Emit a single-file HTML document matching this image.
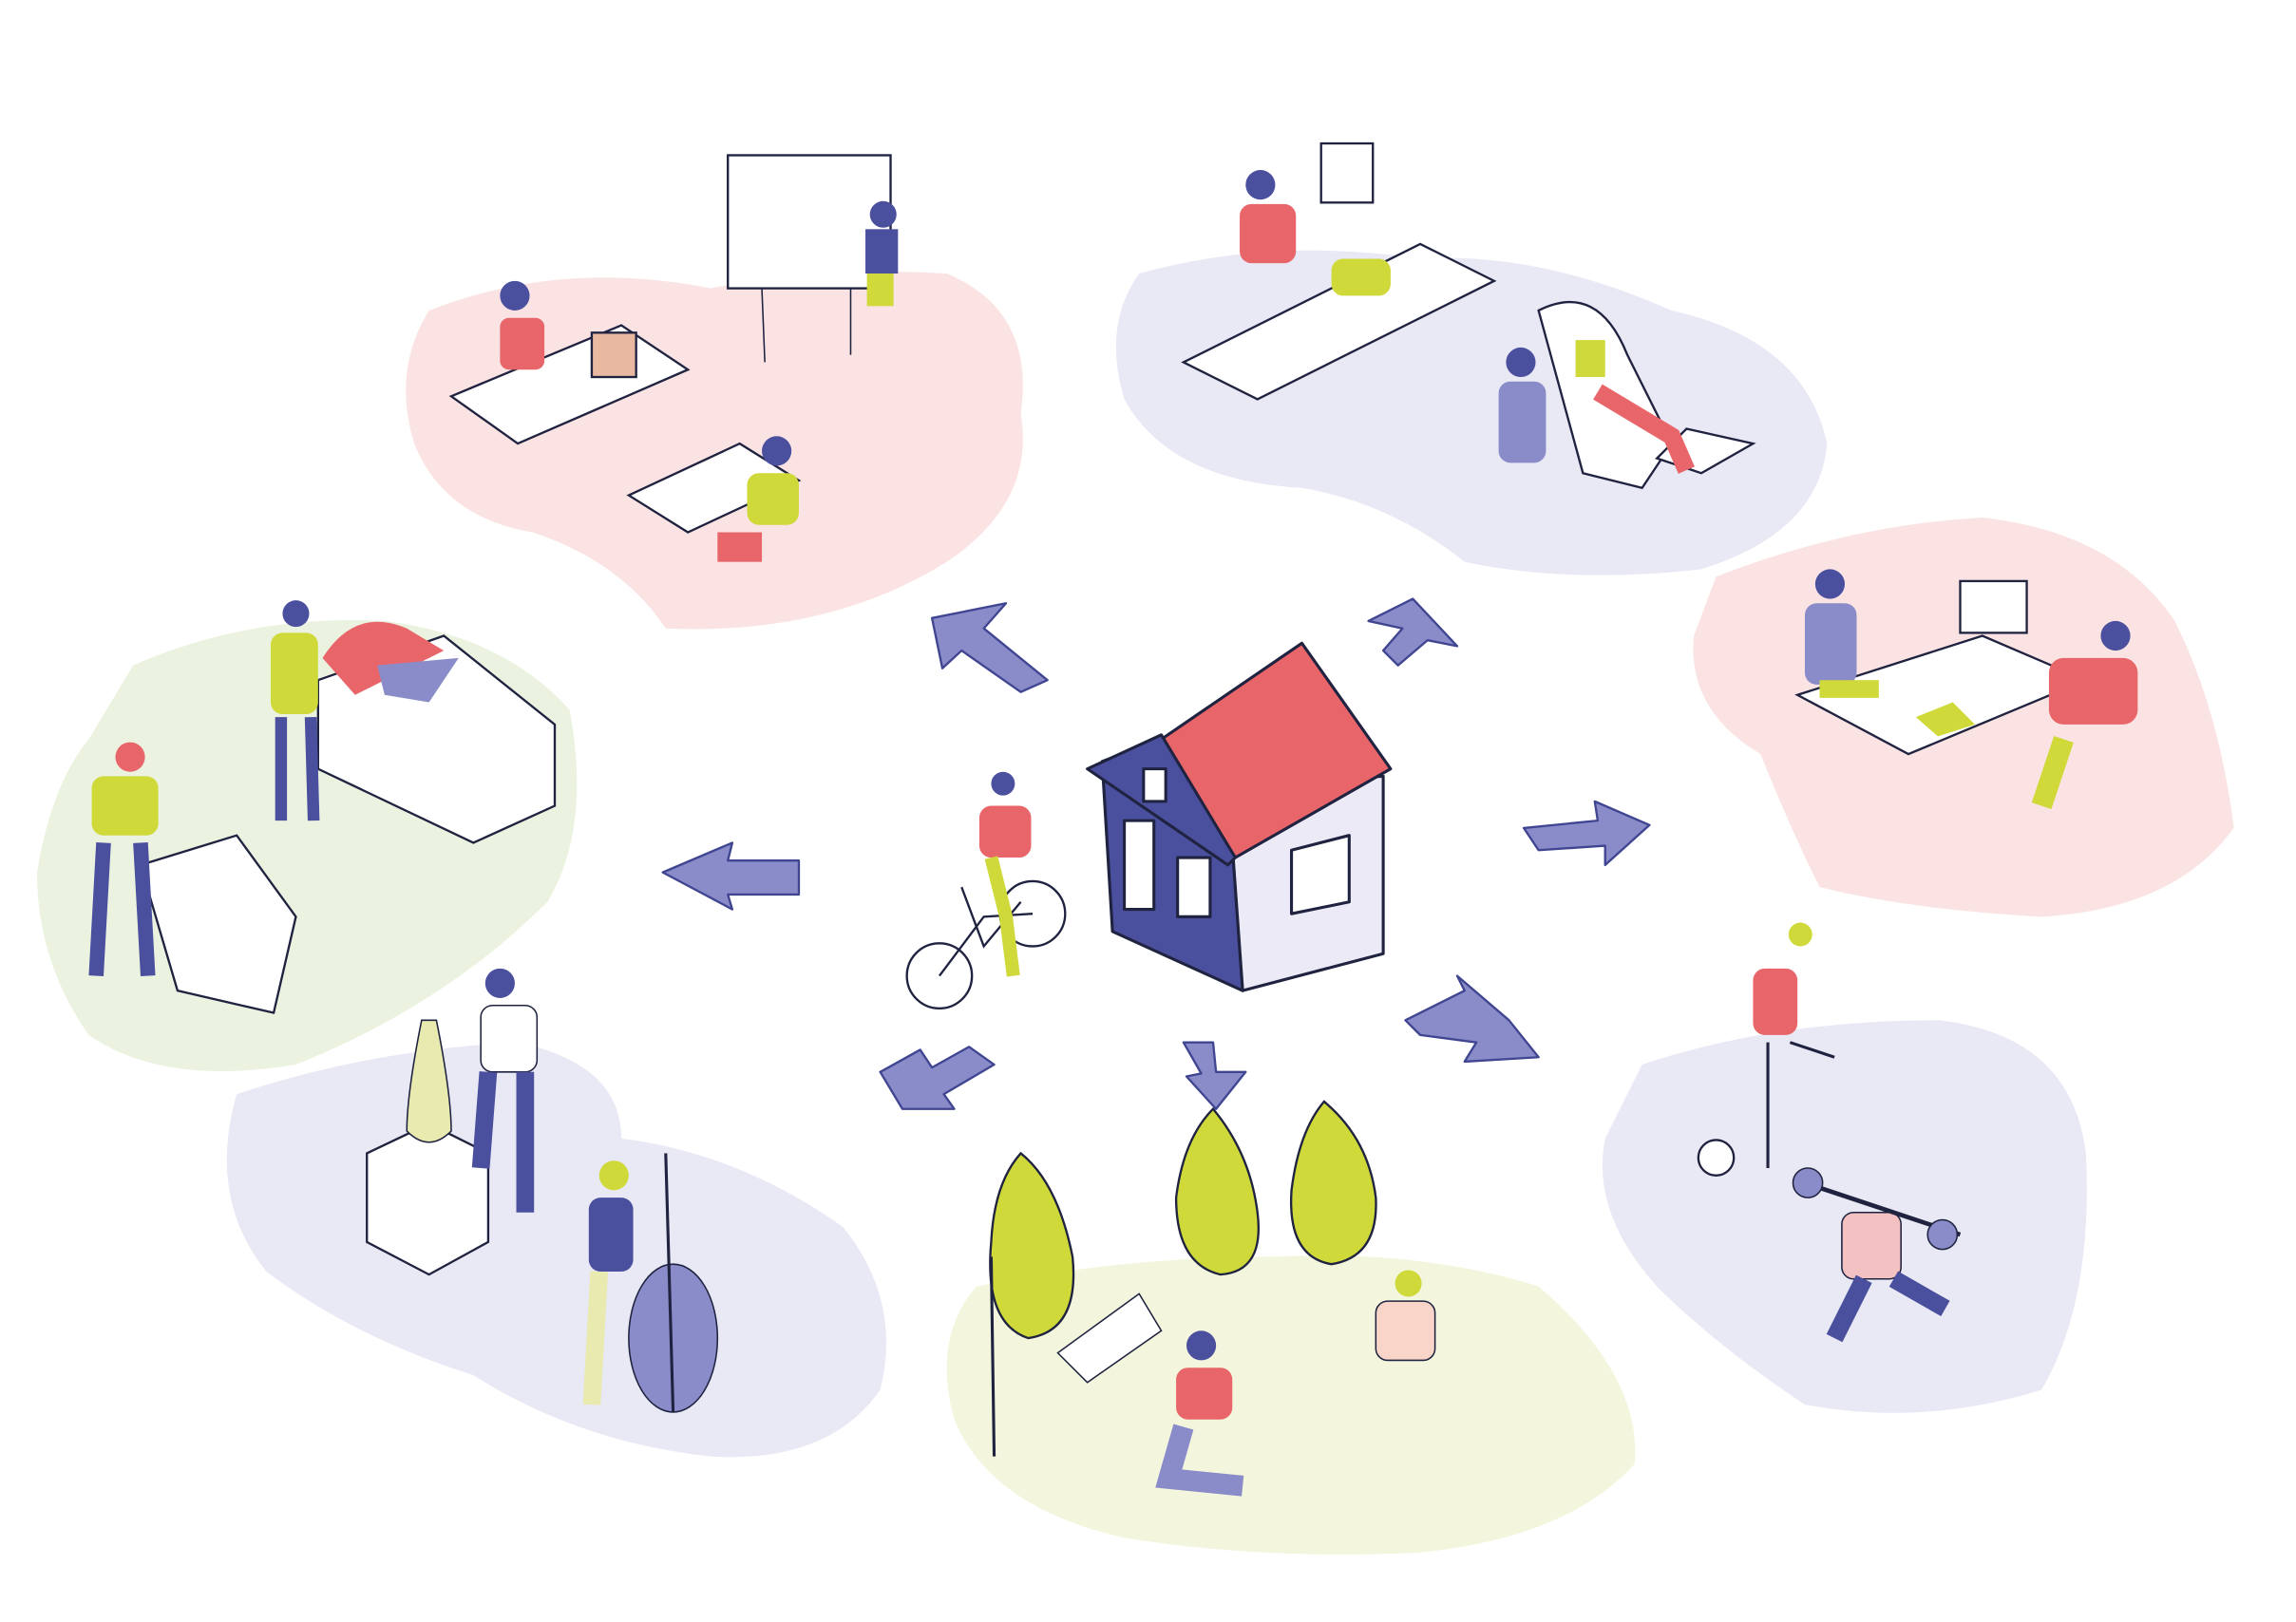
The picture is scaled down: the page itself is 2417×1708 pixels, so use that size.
<!DOCTYPE html>
<html><head><meta charset="utf-8"><style>
html,body{margin:0;padding:0;background:#fff;width:2417px;height:1708px;overflow:hidden}
svg{display:block}
</style></head><body>
<svg width="2417" height="1708" viewBox="0 0 1552 1097" preserveAspectRatio="none" xmlns="http://www.w3.org/2000/svg">
<g opacity="1">
<!-- blobs -->
<path d="M290 210 Q380 175 480 195 Q560 180 640 185 Q700 210 690 280 Q700 340 640 380 Q560 430 450 425 Q420 380 360 360 Q300 350 280 300 Q265 250 290 210Z" fill="#fbe3e3"/>
<path d="M770 185 Q860 160 960 175 Q1040 170 1130 210 Q1220 230 1235 300 Q1230 360 1150 385 Q1060 395 990 380 Q940 340 880 330 Q790 325 760 270 Q745 220 770 185Z" fill="#e9e8f5"/>
<path d="M1160 390 Q1250 355 1340 350 Q1430 360 1470 420 Q1500 480 1510 560 Q1470 615 1380 620 Q1290 615 1230 600 Q1210 560 1190 510 Q1140 480 1145 430Z" fill="#fbe3e3"/>
<path d="M1110 720 Q1200 690 1310 690 Q1400 700 1410 780 Q1415 880 1380 940 Q1300 965 1220 950 Q1160 910 1120 870 Q1075 820 1085 770Z" fill="#e9e8f5"/>
<path d="M660 870 Q760 850 860 850 Q960 845 1040 870 Q1110 930 1105 990 Q1060 1040 960 1050 Q850 1055 760 1040 Q670 1020 645 960 Q630 905 660 870Z" fill="#f3f6dd"/>
<path d="M160 740 Q250 710 350 705 Q420 720 420 770 Q500 780 570 830 Q610 880 595 940 Q560 990 480 985 Q390 975 320 930 Q240 905 180 860 Q140 810 160 740Z" fill="#e9e8f5"/>
<path d="M90 450 Q170 415 260 420 Q340 430 385 480 Q400 560 370 610 Q300 680 200 720 Q110 735 60 700 Q25 650 25 590 Q35 530 60 500Z" fill="#ebf3e0"/>
</g>
<!-- arrows -->
<g fill="#8a8cc9" stroke="#3f4590" stroke-width="1.5" stroke-linejoin="round">
<polygon points="630,418 680,408 665,425 708,460 690,468 650,440 637,452"/>
<polygon points="925,420 955,405 985,437 965,433 945,450 935,440 948,425"/>
<polygon points="1030,560 1080,555 1078,542 1115,558 1085,585 1085,572 1040,575"/>
<polygon points="950,690 990,670 985,660 1020,690 1040,715 990,718 998,705 960,700"/>
<polygon points="800,705 820,705 822,725 842,725 822,750 802,728 812,726"/>
<polygon points="595,725 610,750 645,750 638,740 672,720 655,708 630,722 622,710"/>
<polygon points="448,590 495,570 492,582 540,582 540,605 492,605 495,615"/>
</g>
<!-- house -->
<g stroke="#1f2340" stroke-width="2" stroke-linejoin="round">
<polygon points="745,515 785,500 830,530 840,670 752,630" fill="#4a4f9e"/>
<polygon points="830,530 935,525 935,645 840,670" fill="#eceaf6"/>
<polygon points="785,500 880,435 940,520 835,580" fill="#e8656a"/>
<polygon points="735,520 785,497 835,580 830,585" fill="#4a4f9e"/>
<rect x="760" y="555" width="20" height="60" fill="#fff"/>
<rect x="796" y="580" width="22" height="40" fill="#fff"/>
<rect x="773" y="520" width="15" height="22" fill="#fff"/>
<polygon points="873,575 912,565 912,610 873,618" fill="#fff"/>
</g>
<!-- cyclist -->
<g stroke="#1f2340" stroke-width="1.5" fill="none">
<circle cx="635" cy="660" r="22"/><circle cx="698" cy="618" r="22"/>
<path d="M635 660 L665 620 L698 618 M650 600 L665 640 L690 610"/>
</g>
<circle cx="678" cy="530" r="8" fill="#4a4f9e"/>
<rect x="662" y="545" width="35" height="35" rx="8" fill="#e8656a"/>
<path d="M670 580 L680 620 L685 660" stroke="#cfd93a" stroke-width="9" fill="none"/>
<!-- school -->
<g stroke="#1f2340" stroke-width="1.5" fill="#fff">
<rect x="492" y="105" width="110" height="90"/>
<polygon points="305,268 420,220 465,250 350,300"/>
<polygon points="425,335 500,300 540,325 465,360" />
<rect x="400" y="225" width="30" height="30" fill="#e8b8a0"/>
</g>
<line x1="515" y1="195" x2="517" y2="245" stroke="#1f2340"/><line x1="575" y1="195" x2="575" y2="240" stroke="#1f2340"/>
<circle cx="348" cy="200" r="10" fill="#4a4f9e"/><rect x="338" y="215" width="30" height="35" rx="6" fill="#e8656a"/>
<circle cx="597" cy="145" r="9" fill="#4a4f9e"/><rect x="585" y="155" width="22" height="30" fill="#4a4f9e"/><rect x="586" y="185" width="18" height="22" fill="#cfd93a"/>
<circle cx="525" cy="305" r="10" fill="#4a4f9e"/><rect x="505" y="320" width="35" height="35" rx="8" fill="#cfd93a"/><rect x="485" y="360" width="30" height="20" fill="#e8656a"/>
<!-- hospital -->
<g stroke="#1f2340" stroke-width="1.5" fill="#fff">
<polygon points="800,245 960,165 1010,190 850,270"/>
<rect x="893" y="97" width="35" height="40"/>
<path d="M1040 210 Q1080 190 1100 240 L1130 300 L1110 330 L1070 320Z"/>
<polygon points="1140,290 1185,300 1150,320 1120,310"/>
</g>
<circle cx="852" cy="125" r="10" fill="#4a4f9e"/><rect x="838" y="138" width="38" height="40" rx="8" fill="#e8656a"/>
<rect x="900" y="175" width="40" height="25" rx="8" fill="#cfd93a"/>
<circle cx="1028" cy="245" r="10" fill="#4a4f9e"/><rect x="1013" y="258" width="32" height="55" rx="8" fill="#8a8cc9"/>
<rect x="1065" y="230" width="20" height="25" fill="#cfd93a"/><path d="M1080 265 L1130 295 L1140 318" stroke="#e8656a" stroke-width="12" fill="none"/>
<!-- office -->
<g stroke="#1f2340" stroke-width="1.5" fill="#fff">
<polygon points="1215,470 1340,430 1410,460 1290,510"/>
<rect x="1325" y="393" width="45" height="35"/>
</g>
<circle cx="1237" cy="395" r="10" fill="#4a4f9e"/><rect x="1220" y="408" width="35" height="55" rx="8" fill="#8a8cc9"/><rect x="1230" y="460" width="40" height="12" fill="#cfd93a"/>
<circle cx="1430" cy="430" r="10" fill="#4a4f9e"/><rect x="1385" y="445" width="60" height="45" rx="10" fill="#e8656a"/><path d="M1395 500 L1380 545" stroke="#cfd93a" stroke-width="14"/>
<polygon points="1295,485 1320,475 1335,490 1310,498" fill="#cfd93a"/>
<!-- sports -->
<circle cx="1217" cy="632" r="8" fill="#cfd93a"/><rect x="1185" y="655" width="30" height="45" rx="8" fill="#e8656a"/>
<path d="M1195 705 L1195 790 M1210 705 L1240 715" stroke="#1f2340" stroke-width="2"/>
<circle cx="1160" cy="783" r="12" fill="#fff" stroke="#1f2340" stroke-width="1.5"/>
<rect x="1245" y="820" width="40" height="45" rx="8" fill="#f3c1c1" stroke="#1f2340"/>
<path d="M1220 800 L1325 835" stroke="#1f2340" stroke-width="3"/>
<circle cx="1222" cy="800" r="10" fill="#8a8cc9" stroke="#1f2340"/><circle cx="1313" cy="835" r="10" fill="#8a8cc9" stroke="#1f2340"/>
<path d="M1260 865 L1240 905 M1280 865 L1315 885" stroke="#4a4f9e" stroke-width="12"/>
<!-- park trees -->
<g fill="#cfd93a" stroke="#1f2340" stroke-width="1.5">
<path d="M690 780 Q715 800 725 850 Q730 900 695 905 Q665 895 670 840 Q672 800 690 780Z"/>
<path d="M820 750 Q845 780 850 820 Q855 860 825 862 Q795 855 795 810 Q800 770 820 750Z"/>
<path d="M895 745 Q925 770 930 810 Q932 850 900 855 Q870 850 873 805 Q878 765 895 745Z"/>
</g>
<line x1="670" y1="850" x2="672" y2="985" stroke="#1f2340" stroke-width="2"/>
<polygon points="715,915 770,875 785,900 735,935" fill="#fff" stroke="#1f2340"/>
<circle cx="812" cy="910" r="10" fill="#4a4f9e"/><rect x="795" y="925" width="38" height="35" rx="8" fill="#e8656a"/><path d="M800 965 L790 1000 L840 1005" stroke="#8a8cc9" stroke-width="14" fill="none"/>
<circle cx="952" cy="868" r="9" fill="#cfd93a"/><rect x="930" y="880" width="40" height="40" rx="8" fill="#f8d5c8" stroke="#1f2340"/>
<!-- culture -->
<g stroke="#1f2340" stroke-width="1.5" fill="#fff">
<polygon points="248,780 290,760 330,780 330,840 290,862 248,840"/>
</g>
<path d="M285 690 L295 690 Q305 740 305 765 Q290 780 275 765 Q275 740 285 690Z" fill="#e8eab0" stroke="#1f2340"/>
<circle cx="338" cy="665" r="10" fill="#4a4f9e"/><rect x="325" y="680" width="38" height="45" rx="8" fill="#fff" stroke="#1f2340"/><path d="M330 725 L325 790 M355 725 L355 820" stroke="#4a4f9e" stroke-width="12"/>
<circle cx="415" cy="795" r="10" fill="#cfd93a"/><rect x="398" y="810" width="30" height="50" rx="8" fill="#4a4f9e"/><path d="M405 860 L400 950" stroke="#e8eab0" stroke-width="12"/>
<ellipse cx="455" cy="905" rx="30" ry="50" fill="#8a8cc9" stroke="#1f2340"/><line x1="450" y1="780" x2="455" y2="955" stroke="#1f2340" stroke-width="2"/>
<!-- market -->
<g stroke="#1f2340" stroke-width="1.5" fill="#fff">
<polygon points="215,460 300,430 375,490 375,545 320,570 215,520"/>
<polygon points="95,585 160,565 200,620 185,685 120,670"/>
</g>
<path d="M218 445 Q240 410 275 425 L300 440 L240 470Z" fill="#e8656a"/>
<path d="M255 450 L310 445 L290 475 L260 470Z" fill="#8a8cc9"/>
<circle cx="200" cy="415" r="9" fill="#4a4f9e"/><rect x="183" y="428" width="32" height="55" rx="8" fill="#cfd93a"/><path d="M190 485 L190 555 M210 485 L212 555" stroke="#4a4f9e" stroke-width="8"/>
<circle cx="88" cy="512" r="10" fill="#e8656a"/><rect x="62" y="525" width="45" height="40" rx="8" fill="#cfd93a"/><path d="M70 570 L65 660 M95 570 L100 660" stroke="#4a4f9e" stroke-width="10"/>
</svg>
</body></html>
